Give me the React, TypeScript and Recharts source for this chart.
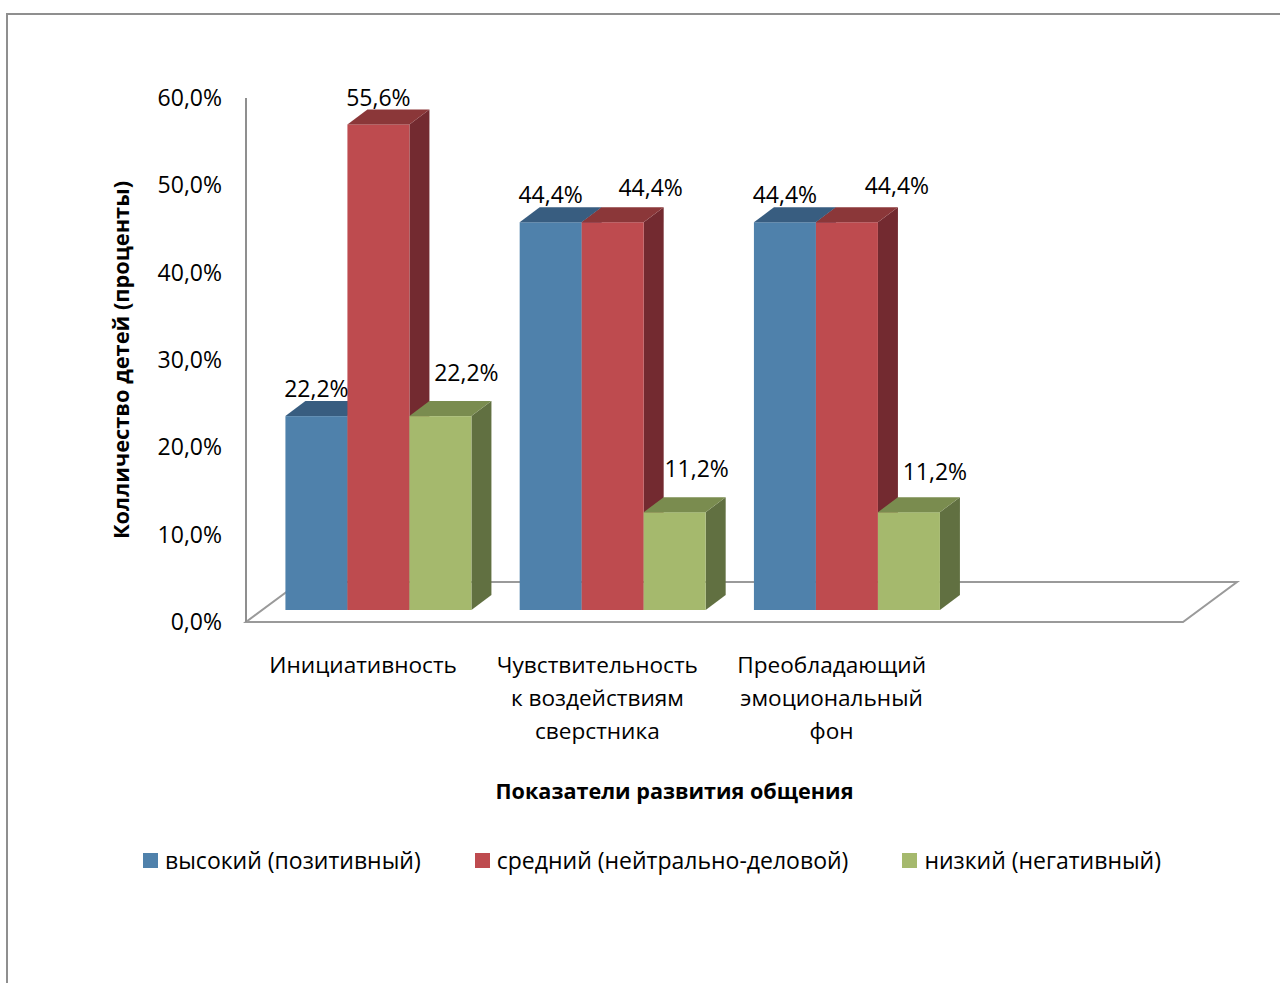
import React from 'react';
import { BarChart, Bar, XAxis, YAxis, LabelList, ReferenceArea, Legend } from 'recharts';

// ---------- data ----------
const categories: string[] = [
  'Инициативность',
  'Чувствительность\nк воздействиям\nсверстника',
  'Преобладающий\nэмоциональный\nфон',
  ' ',
];
const highValues: (number | null)[] = [22.2, 44.4, 44.4, null];
const midValues: (number | null)[] = [55.6, 44.4, 44.4, null];
const lowValues: (number | null)[] = [22.2, 11.2, 11.2, null];
const yTicks: number[] = [0, 10, 20, 30, 40, 50, 60];
const seriesNames: string[] = ['высокий (позитивный)', 'средний (нейтрально-деловой)', 'низкий (негативный)'];
const xTitle = 'Показатели развития общения';
const yTitle = 'Колличество детей (проценты)';

const data = categories.map((name, i) => ({
  name,
  high: highValues[i],
  mid: midValues[i],
  low: lowValues[i],
}));

// ---------- styles ----------
const FONT = '"Open Sans", "DejaVu Sans", sans-serif';
const SHIFT_X = 16;
const SHIFT_Y = -12;
const DEPTH_X = 20;
const DEPTH_Y = -15;
const FLOOR_X = 54;
const FLOOR_Y = -40;

const COLORS = {
  high: { front: '#4F81AB', top: '#385D80', side: '#2F4F6E' },
  mid: { front: '#BE4B4F', top: '#8B3739', side: '#732A30' },
  low: { front: '#A5B96D', top: '#7A8C4F', side: '#617041' },
};

// label offsets (series -> per category) relative to front-face top centre
const LABEL_OFFSETS: Record<string, [number, number][]> = {
  high: [[0, -27], [0, -28], [0, -28]],
  mid: [[0, -27], [38, -35], [50, -37]],
  low: [[26, -43], [22, -43], [26, -40]],
};

const fmt = (v: number) => v.toFixed(1).replace('.', ',') + '%';

function make3DBar(c: { front: string; top: string; side: string }) {
  return (props: any) => {
    const { x, y, width, height, value } = props;
    if (value == null || width == null || height == null) return <g />;
    const fx = x + SHIFT_X;
    const fy = y + SHIFT_Y;
    const w = width;
    const h = height;
    const top = `${fx},${fy} ${fx + w},${fy} ${fx + w + DEPTH_X},${fy + DEPTH_Y} ${fx + DEPTH_X},${fy + DEPTH_Y}`;
    const side = `${fx + w},${fy} ${fx + w},${fy + h} ${fx + w + DEPTH_X},${fy + h + DEPTH_Y} ${fx + w + DEPTH_X},${fy + DEPTH_Y}`;
    return (
      <g>
        <polygon points={side} fill={c.side} />
        <rect x={fx} y={fy} width={w} height={h} fill={c.front} />
        <polygon points={top} fill={c.top} />
      </g>
    );
  };
}

function makeLabel(key: string) {
  return (props: any) => {
    const { x, y, width, value, index } = props;
    if (value == null || x == null) return null;
    const off = LABEL_OFFSETS[key][index] || [0, -27];
    const cx = x + SHIFT_X + width / 2 + off[0];
    const cy = y + SHIFT_Y + off[1];
    return (
      <text x={cx} y={cy} dy="0.36em" textAnchor="middle" fontFamily={FONT} fontSize={23} fill="#000">
        {fmt(Number(value))}
      </text>
    );
  };
}

const Floor = (props: any) => {
  const { x, y, width, height } = props;
  const L = x;
  const R = x + width;
  const B = y + height;
  const pts = `${L},${B} ${R},${B} ${R + FLOOR_X},${B + FLOOR_Y} ${L + FLOOR_X},${B + FLOOR_Y}`;
  return <polygon points={pts} fill="#fff" stroke="#9a9a9a" strokeWidth={2} strokeLinejoin="miter" />;
};

const CategoryTick = (props: any) => {
  const { x, y, payload } = props;
  const lines = String(payload.value).split('\n');
  return (
    <text x={x} y={y} textAnchor="middle" fontFamily={FONT} fontSize={22.6} fill="#000">
      {lines.map((l, i) => (
        <tspan key={i} x={x} dy={i === 0 ? 51 : 33}>
          {l}
        </tspan>
      ))}
    </text>
  );
};

const LegendContent = () => {
  const items = [
    { name: seriesNames[0], color: COLORS.high.front },
    { name: seriesNames[1], color: COLORS.mid.front },
    { name: seriesNames[2], color: COLORS.low.front },
  ];
  return (
    <div style={{ display: 'flex', gap: 54, fontFamily: FONT, fontSize: 23, color: '#000', whiteSpace: 'nowrap' }}>
      {items.map((it) => (
        <div key={it.name} style={{ display: 'flex', alignItems: 'center' }}>
          <span style={{ display: 'inline-block', width: 15, height: 15, background: it.color, marginRight: 7 }} />
          <span>{it.name}</span>
        </div>
      ))}
    </div>
  );
};

export default function App() {
  return (
    <div style={{ position: 'absolute', left: 0, top: 0, width: 1280, height: 983, background: '#fff', overflow: 'hidden' }}>
      <div
        style={{
          position: 'absolute',
          left: 6,
          top: 13,
          width: 1280,
          height: 980,
          borderTop: '2px solid #8f8f8f',
          borderLeft: '2px solid #8f8f8f',
        }}
      />
      <div style={{ position: 'absolute', left: 0, top: 0 }}>
        <BarChart
          width={1280}
          height={983}
          data={data}
          margin={{ top: 98, right: 97, bottom: 161, left: 106 }}
          barCategoryGap="10%"
          barGap={0}
        >
          <ReferenceArea
            x1={categories[0]}
            x2={categories[3]}
            y1={0}
            y2={60}
            shape={<Floor />}
            ifOverflow="visible"
          />
          <XAxis
            dataKey="name"
            axisLine={false}
            tickLine={false}
            tickSize={0}
            tickMargin={0}
            height={200}
            interval={0}
            tick={<CategoryTick />}
            label={{
              content: (p: any) => {
                const vb = p.viewBox || { x: 246, width: 937, y: 622 };
                return (
                  <text
                    x={vb.x + vb.width / 2 - 40}
                    y={vb.y + 177}
                    textAnchor="middle"
                    fontFamily={FONT}
                    fontWeight="bold"
                    fontSize={21.6}
                    fill="#000"
                  >
                    {xTitle}
                  </text>
                );
              },
            }}
          />
          <YAxis
            domain={[0, 60]}
            ticks={yTicks}
            interval={0}
            width={140}
            tickLine={false}
            tickSize={0}
            tickMargin={24}
            axisLine={{ stroke: '#8f8f8f', strokeWidth: 2 }}
            tickFormatter={(v: number) => fmt(v)}
            tick={{ fontFamily: FONT, fontSize: 23, fill: '#000' }}
            label={{
              content: (p: any) => {
                const vb = p.viewBox || { x: 106, y: 98, height: 524 };
                const cx = vb.x + 15;
                const cy = vb.y + vb.height / 2;
                return (
                  <text
                    x={cx}
                    y={cy}
                    dy="0.36em"
                    transform={`rotate(-90, ${cx}, ${cy})`}
                    textAnchor="middle"
                    fontFamily={FONT}
                    fontWeight="bold"
                    fontSize={21.8}
                    fill="#000"
                  >
                    {yTitle}
                  </text>
                );
              },
            }}
          />
          <Legend
            verticalAlign="middle"
            align="center"
            layout="horizontal"
            content={<LegendContent />}
            wrapperStyle={{ position: 'absolute', top: 844, left: 143, width: 1120, height: 32 }}
          />
          <Bar dataKey="high" name={seriesNames[0]} fill={COLORS.high.front} shape={make3DBar(COLORS.high)} isAnimationActive={false}>
            <LabelList dataKey="high" content={makeLabel('high')} />
          </Bar>
          <Bar dataKey="mid" name={seriesNames[1]} fill={COLORS.mid.front} shape={make3DBar(COLORS.mid)} isAnimationActive={false}>
            <LabelList dataKey="mid" content={makeLabel('mid')} />
          </Bar>
          <Bar dataKey="low" name={seriesNames[2]} fill={COLORS.low.front} shape={make3DBar(COLORS.low)} isAnimationActive={false}>
            <LabelList dataKey="low" content={makeLabel('low')} />
          </Bar>
        </BarChart>
      </div>
    </div>
  );
}
